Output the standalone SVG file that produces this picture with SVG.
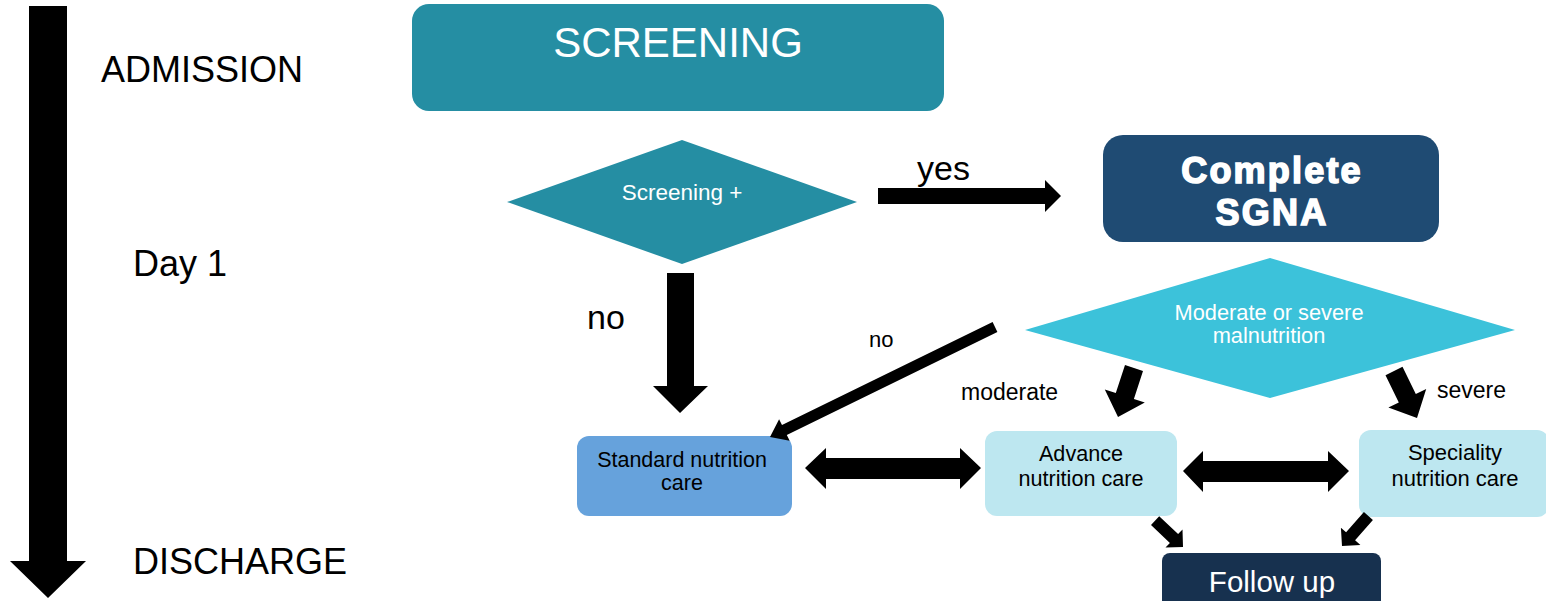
<svg xmlns="http://www.w3.org/2000/svg" width="1546" height="601" viewBox="0 0 1546 601">
<style>
.t{font-family:"Liberation Sans",Arial,sans-serif;}
.w{fill:#ffffff;}
.k{fill:#000000;}
.arr{fill:#000000;stroke:none;}
</style>
<rect x="0" y="0" width="1546" height="601" fill="#ffffff"/>

<g id="timeline">
  <polygon class="arr" points="29,6 67,6 67,561 86,561 48,598 10,561 29,561"/>
  <text class="t k" x="101" y="82" font-size="36">ADMISSION</text>
  <text class="t k" x="133" y="276" font-size="36">Day 1</text>
  <text class="t k" x="133" y="574" font-size="36">DISCHARGE</text>
</g>

<g id="screening">
  <rect x="412" y="4" width="532" height="107" rx="17" fill="#258ea3"/>
  <text class="t w" x="678" y="57" font-size="42" text-anchor="middle">SCREENING</text>
</g>

<g id="screening-plus">
  <polygon points="682,140 857,202 682,264 507,202" fill="#258ea3"/>
  <text class="t w" x="682" y="200" font-size="22.5" text-anchor="middle">Screening +</text>
</g>

<g id="complete-sgna">
  <rect x="1103" y="135" width="336" height="107" rx="20" fill="#1f4b73"/>
  <text class="t w" x="1272" y="183" font-size="36" font-weight="bold" stroke="#ffffff" stroke-width="1.6" letter-spacing="2.2" text-anchor="middle">Complete</text>
  <text class="t w" x="1272" y="225" font-size="36" font-weight="bold" stroke="#ffffff" stroke-width="1.6" letter-spacing="2.2" text-anchor="middle">SGNA</text>
</g>

<g id="malnutrition">
  <polygon points="1270,258 1515,330 1270,398 1025,330" fill="#3cc2da"/>
  <text class="t w" x="1269" y="320" font-size="21.8" text-anchor="middle">Moderate or severe</text>
  <text class="t w" x="1269" y="343" font-size="21.8" text-anchor="middle">malnutrition</text>
</g>

<g id="standard">
  <rect x="577" y="436" width="215" height="80" rx="12" fill="#66a2dc"/>
  <text class="t k" x="682" y="467" font-size="21.5" text-anchor="middle">Standard nutrition</text>
  <text class="t k" x="682" y="490" font-size="21.5" text-anchor="middle">care</text>
</g>

<g id="advance">
  <rect x="985" y="431" width="192" height="85" rx="12" fill="#bde7f0"/>
  <text class="t k" x="1081" y="461" font-size="21.6" text-anchor="middle">Advance</text>
  <text class="t k" x="1081" y="486" font-size="21.6" text-anchor="middle">nutrition care</text>
</g>

<g id="speciality">
  <rect x="1359" y="430" width="190" height="87" rx="12" fill="#bde7f0"/>
  <text class="t k" x="1455" y="460" font-size="22" text-anchor="middle">Speciality</text>
  <text class="t k" x="1455" y="486" font-size="22" text-anchor="middle">nutrition care</text>
</g>

<g id="follow-up">
  <rect x="1162" y="553" width="219" height="60" rx="8" fill="#17314f"/>
  <text class="t w" x="1272" y="592" font-size="29.5" text-anchor="middle">Follow up</text>
</g>

<g id="connectors">
  <!-- yes -->
  <polygon class="arr" points="878,188 1045,188 1045,180 1061,196 1045,212 1045,204 878,204"/>
  <text class="t k" x="917" y="180" font-size="34">yes</text>
  <!-- no (down) -->
  <polygon class="arr" points="667,273 694,273 694,386 708,386 680,413 653,386 667,386"/>
  <text class="t k" x="587" y="329" font-size="34">no</text>
  <!-- no (diagonal) -->
  <polygon class="arr" points="997.4,331.9 786.8,434.9 789.7,440.8 770,437 779.1,419.2 782,425.1 992.6,322.1"/>
  <text class="t k" x="869" y="347" font-size="22">no</text>
  <!-- moderate -->
  <polygon class="arr" points="1143,371 1133.9,399 1144.8,402.6 1118,417 1104.8,389.6 1115.8,393.1 1125,365.1"/>
  <text class="t k" x="961" y="400" font-size="23">moderate</text>
  <!-- severe -->
  <polygon class="arr" points="1402.5,366.8 1415.8,394 1426.2,389 1417,418 1388.4,407.4 1398.8,402.4 1385.5,375.2"/>
  <text class="t k" x="1437" y="398" font-size="23">severe</text>
  <!-- standard <-> advance -->
  <polygon class="arr" points="805,468 826,448 826,458 960,458 960,448 981,468 960,489 960,479 826,479 826,489"/>
  <!-- advance <-> speciality -->
  <polygon class="arr" points="1183,471 1203,451 1203,461 1328,461 1328,451 1349,471 1328,492 1328,482 1203,482 1203,492"/>
  <!-- advance -> follow up -->
  <polygon class="arr" points="1159.2,516.2 1178.1,534.1 1182.5,529.5 1183,547 1165.5,547.5 1169.9,542.9 1151,525"/>
  <!-- speciality -> follow up -->
  <polygon class="arr" points="1372.9,520 1355.1,540.3 1360.4,544.9 1342,546 1340.9,527.7 1346.1,532.3 1363.9,512"/>
</g>
</svg>
